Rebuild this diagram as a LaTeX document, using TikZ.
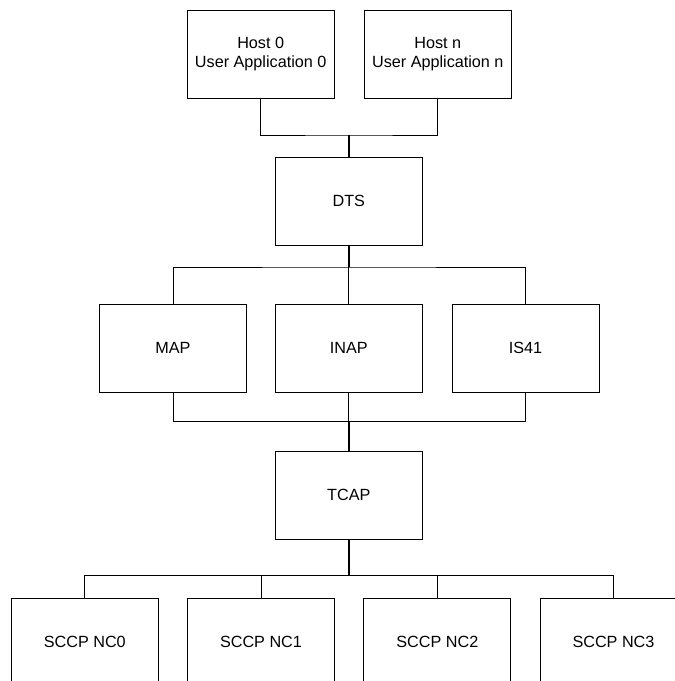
\documentclass[tikz,border=0pt]{standalone}
\usepackage{fontspec}
\setmainfont{Liberation Sans}
\begin{document}
\begin{tikzpicture}[x=1pt,y=-1pt, line width=0.9pt,
    every node/.style={font=\fontsize{16.2}{19}\selectfont},
    blk/.style={draw, minimum width=147pt, minimum height=88pt, inner sep=0pt, align=center},
    trunk/.style={line width=1.6pt}]
        \clip (0,0) rectangle (675,681);
        % upper part
        \node[blk] (host0) at (260.7,54) {Host 0\\User Application 0};
        \node[blk] (hostn) at (437.8,54) {Host n\\User Application n};
        \node[blk] (dts) at (348.8,201) {DTS};
        \foreach \x/\name/\label in {173/map/MAP,348.8/inap/INAP,525.5/isfo/IS41}
            \node[blk] (\name) at (\x,348) {\label};
        \node[blk] (tcap) at (348.8,495) {TCAP};
        \foreach \x/\i in {84.8/0,261/1,437.4/2,613.5/3}
            \node[blk] (nc\i) at (\x,642) {SCCP NC\i};
        % buses
        \coordinate (hostbus) at (348.8,135);
        \coordinate (dtsbus) at (348.8,267);
        \coordinate (appbus) at (348.8,421.7);
        \coordinate (ncbus) at (348.8,575.7);
        \draw (host0.south) |- (hostbus) -| (hostn.south);
        \draw[trunk] (hostbus) -- (dts.north);
        \draw[trunk] (dts.south) -- (dtsbus);
        \draw (map.north) |- (dtsbus) -| (isfo.north);
        \draw (dtsbus) -- (inap.north);
        \draw (map.south) |- (appbus) -| (isfo.south);
        \draw (inap.south) -- (appbus);
        \draw[trunk] (appbus) -- (tcap.north);
        \draw[trunk] (tcap.south) -- (ncbus);
        \draw (nc0.north) |- (ncbus) -| (nc3.north);
        \draw (nc1.north) |- (ncbus);
        \draw (nc2.north) |- (ncbus);
    \end{tikzpicture}
\end{document}
